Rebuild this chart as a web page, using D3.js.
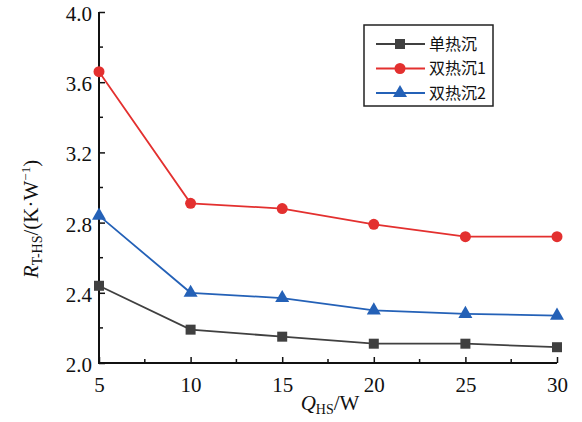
<!DOCTYPE html>
<html>
<head>
<meta charset="utf-8">
<script src="https://cdn.jsdelivr.net/npm/d3@7/dist/d3.min.js"></script>
<style>
  html, body { margin: 0; padding: 0; background: #fff; }
  svg { display: block; }
  text { font-family: "Liberation Serif", "Times New Roman", serif; fill: #111; }
  .cjk { font-family: "Noto Sans CJK SC", sans-serif; }
</style>
</head>
<body>
<svg id="chart" width="582" height="422"></svg>
<script>
// Heat input power Q_HS (W)
const powers = [5, 10, 15, 20, 25, 30];
// Thermal resistance R_T-HS (K/W) for each heat-sink layout
const singleSink = [2.44, 2.19, 2.15, 2.11, 2.11, 2.09];
const dualSink1  = [3.66, 2.91, 2.88, 2.79, 2.72, 2.72];
const dualSink2  = [2.84, 2.40, 2.37, 2.30, 2.28, 2.27];
const seriesNames = ["单热沉", "双热沉1", "双热沉2"];
const xTicks = [5, 10, 15, 20, 25, 30];
const yTicks = [2.0, 2.4, 2.8, 3.2, 3.6, 4.0];

const series = [
  { name: seriesNames[0], values: singleSink, color: "#404040", shape: d3.symbolSquare, size: 100 },
  { name: seriesNames[1], values: dualSink1,  color: "#e3302f", shape: d3.symbolCircle, size: 95 },
  { name: seriesNames[2], values: dualSink2,  color: "#2461b7", shape: d3.symbolTriangle, size: 85 }
];

const svg = d3.select("#chart");
const x = d3.scaleLinear().domain([5, 30]).range([99, 557]);
const y = d3.scaleLinear().domain([2, 4]).range([363, 12]);

// Axes: ticks point into the plot area
const xAxis = svg.append("g").attr("transform", `translate(0,${y(2)})`);
xAxis.call(d3.axisBottom(x).tickValues(xTicks).tickSizeInner(-6).tickSizeOuter(0).tickFormat(d3.format("d")));
const xMinor = d3.range(7.5, 30, 5);
xAxis.selectAll(".minor").data(xMinor).enter().append("line")
  .attr("x1", d => x(d)).attr("x2", d => x(d)).attr("y1", 0).attr("y2", -4)
  .attr("stroke", "#111").attr("stroke-width", 1.5);

const yAxis = svg.append("g").attr("transform", `translate(${x(5)},0)`);
yAxis.call(d3.axisLeft(y).tickValues(yTicks).tickSizeInner(-6).tickSizeOuter(0).tickFormat(d3.format(".1f")));
const yMinor = d3.range(2.2, 4.0, 0.4);
yAxis.selectAll(".minor").data(yMinor).enter().append("line")
  .attr("x1", 0).attr("x2", 4).attr("y1", d => y(d)).attr("y2", d => y(d))
  .attr("stroke", "#111").attr("stroke-width", 1.5);

[xAxis, yAxis].forEach(g => {
  g.select(".domain").attr("stroke", "#111").attr("stroke-width", 2);
  g.selectAll(".tick line").attr("stroke", "#111").attr("stroke-width", 1.5);
  g.selectAll(".tick text").attr("font-family", "Liberation Serif").attr("font-size", 21).attr("fill", "#111");
});
xAxis.selectAll(".tick text").attr("y", 14).attr("dy", "0.71em");
yAxis.selectAll(".tick text").attr("x", -7).attr("dy", "0.4em");
// extend domain lines so the corner closes cleanly
xAxis.select(".domain").attr("d", `M${x(5) - 1},0H${x(30)}`);
yAxis.select(".domain").attr("d", `M0,${y(2) + 1}V${y(4)}`);

// Series lines and markers
const line = d3.line().x((d, i) => x(powers[i])).y(d => y(d));
series.forEach(s => {
  svg.append("path").datum(s.values)
    .attr("d", line).attr("fill", "none")
    .attr("stroke", s.color).attr("stroke-width", 1.8);
  svg.append("g").selectAll("path").data(s.values).enter().append("path")
    .attr("d", d3.symbol().type(s.shape).size(s.size))
    .attr("transform", (d, i) => `translate(${x(powers[i])},${y(d)})`)
    .attr("fill", s.color);
});

// Legend
const legend = svg.append("g");
legend.append("rect").attr("x", 364).attr("y", 25).attr("width", 129).attr("height", 81)
  .attr("fill", "#fff").attr("stroke", "#222").attr("stroke-width", 1.5);
series.forEach((s, i) => {
  const ly = 44 + i * 24.5;
  legend.append("line").attr("x1", 376).attr("x2", 425).attr("y1", ly).attr("y2", ly)
    .attr("stroke", s.color).attr("stroke-width", 1.8);
  legend.append("path").attr("d", d3.symbol().type(s.shape).size(s.size))
    .attr("transform", `translate(400,${ly})`).attr("fill", s.color);
  legend.append("text").attr("class", "cjk").attr("x", 429).attr("y", ly).attr("dy", "0.36em")
    .attr("font-size", 16).text(s.name);
});

// Axis titles
const xt = svg.append("text").attr("x", 330).attr("y", 410).attr("text-anchor", "middle").attr("font-size", 21);
xt.append("tspan").attr("font-style", "italic").text("Q");
xt.append("tspan").attr("font-size", 14).attr("dy", 4).text("HS");
xt.append("tspan").attr("dy", -4).text("/W");

const yt = svg.append("text").attr("transform", "translate(38,219) rotate(-90)")
  .attr("text-anchor", "middle").attr("font-size", 21);
yt.append("tspan").attr("font-style", "italic").text("R");
yt.append("tspan").attr("font-size", 14).attr("dy", 4).text("T-HS");
yt.append("tspan").attr("dy", -4).text("/(K·W");
yt.append("tspan").attr("font-size", 13).attr("dy", -8).text("−1");
yt.append("tspan").attr("dy", 8).text(")");
</script>
</body>
</html>
